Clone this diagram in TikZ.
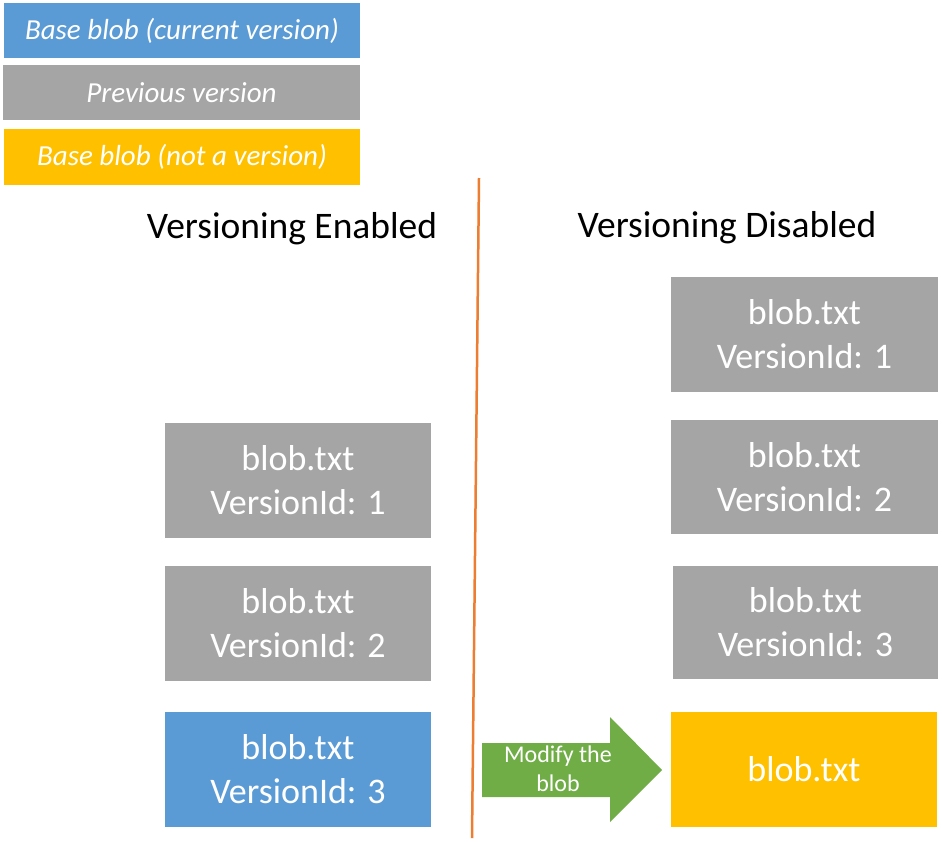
\documentclass[tikz,border=0pt]{standalone}
\usepackage{fontspec}
\setmainfont{Carlito}
\definecolor{cblue}{HTML}{5B9BD5}
\definecolor{cgray}{HTML}{A5A5A5}
\definecolor{cyellow}{HTML}{FFC000}
\definecolor{cgreen}{HTML}{70AD47}
\definecolor{corange}{HTML}{ED7D31}
\tikzset{
  blobbox/.style={fill=#1, draw=none, text=white, minimum width=266pt, minimum height=115pt,
    inner sep=0pt, align=center, font=\fontsize{36}{44}\selectfont},
  legendbox/.style={fill=#1, draw=none, text=white, minimum width=356pt, minimum height=55pt,
    inner sep=0pt, font=\fontsize{29}{34}\selectfont\itshape},
  title/.style={text=black, inner sep=0pt, anchor=base, font=\fontsize{37.5}{45}\selectfont},
}
\begin{document}
\begin{tikzpicture}[x=1pt,y=-1pt]
\useasboundingbox (0,0) rectangle (942,841);
% legend
\node[legendbox=cblue] (lcur) at (182,30.5) {Base blob (current version)};
\node[legendbox=cgray, minimum width=357pt] (lprev) at (181.5,92.5) {Previous version};
\node[legendbox=cyellow, minimum height=56pt] (lbase) at (182,157) {Base blob (not a version)};
% titles
\node[title] (ten) at (292,238) {Versioning Enabled};
\node[title] (tdis) at (727,237) {Versioning Disabled};
% divider
\coordinate (dtop) at (479,178);
\coordinate (dbot) at (472,838);
\draw[corange, line width=2.5pt] (dtop) -- (dbot);
% left column
\node[blobbox=cgray] (e1) at (298,480.5) {blob.txt\\VersionId: 1};
\node[blobbox=cgray] (e2) at (298,623.5) {blob.txt\\VersionId: 2};
\node[blobbox=cblue] (e3) at (298,769.5) {blob.txt\\VersionId: 3};
% right column
\node[blobbox=cgray, minimum width=267pt] (d1) at (804.5,334.5) {blob.txt\\VersionId: 1};
\node[blobbox=cgray, minimum width=267pt, minimum height=114pt] (d2) at (804.5,477) {blob.txt\\VersionId: 2};
\node[blobbox=cgray, minimum width=265pt, minimum height=113pt] (d3) at (805.5,622.5) {blob.txt\\VersionId: 3};
\node[blobbox=cyellow] (d4) at (804,769.5) {blob.txt};
% arrow
\fill[cgreen] (482,743) -- (610,743) -- (610,717) -- (662,770) -- (610,822) -- (610,797) -- (482,797) -- cycle;
\node[text=white, align=center, inner sep=0pt, font=\fontsize{24}{29}\selectfont] (mod) at (558,769) {Modify the\\blob};
\end{tikzpicture}
\end{document}
